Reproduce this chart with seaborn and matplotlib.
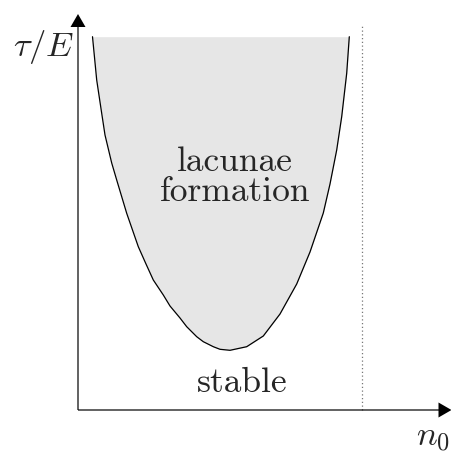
import matplotlib
matplotlib.use("Agg")
import matplotlib.pyplot as plt
import seaborn as sns
import pandas as pd

# Boundary of the lacunae-formation region (n0, tau/E)
n0_boundary = [0.145, 0.187, 0.237, 0.270, 0.337, 0.387, 0.487, 0.603, 0.680, 0.753,
               0.853, 0.920, 1.020, 1.087, 1.187, 1.253, 1.353, 1.420, 1.520, 1.687,
               1.853, 2.020, 2.187, 2.320, 2.453, 2.520, 2.587, 2.637, 2.687, 2.713]
tau_boundary = [3.733, 3.300, 2.967, 2.750, 2.470, 2.300, 1.967, 1.633, 1.460, 1.300,
                1.150, 1.040, 0.920, 0.833, 0.733, 0.683, 0.633, 0.607, 0.597, 0.633,
                0.740, 0.960, 1.260, 1.580, 1.970, 2.260, 2.600, 2.933, 3.367, 3.733]
tau_top = 3.733
n0_limit = 2.837
labels = {"region": "lacunae\nformation", "stable": "stable",
          "xlabel": r"$n_0$", "ylabel": r"$\tau/E$"}

sns.set_theme(style="white")
plt.rcParams["font.family"] = ["cmr10", "DejaVu Serif"]
plt.rcParams["mathtext.fontset"] = "cm"
plt.rcParams["axes.unicode_minus"] = False

fig = plt.figure(figsize=(4.52, 4.54), dpi=100)
ax = fig.add_axes([0, 0, 1, 1])
ax.set_xlim(-0.78, 3.74)
ax.set_ylim(-0.44, 4.10)
ax.axis("off")

df = pd.DataFrame({"n0": n0_boundary, "tau": tau_boundary})
ax.fill_between(df["n0"], df["tau"], tau_top, color="#e6e6e6", lw=0, zorder=1)
sns.lineplot(data=df, x="n0", y="tau", sort=False, color="black", lw=0.9, ax=ax, zorder=3)

# dotted limit line
ax.plot([n0_limit, n0_limit], [0, 3.85], color="#777777", lw=0.9, ls=(0, (1, 2)), zorder=2)

# axes with arrows
ax.arrow(0, 0, 3.735, 0, width=0.012, head_width=0.15, head_length=0.13,
         length_includes_head=True, fc="black", ec="black", lw=0, zorder=4)
ax.arrow(0, 0, 0, 3.96, width=0.012, head_width=0.15, head_length=0.13,
         length_includes_head=True, fc="black", ec="black", lw=0, zorder=4)

ax.text(1.57, 2.33, labels["region"], ha="center", va="center", fontsize=25.5,
        linespacing=0.95, zorder=5)
ax.text(1.64, 0.27, labels["stable"], ha="center", va="center", fontsize=25.5, zorder=5)
ax.text(-0.34, 3.63, labels["ylabel"], ha="center", va="center", fontsize=25)
ax.text(3.55, -0.28, labels["xlabel"], ha="center", va="center", fontsize=25)

fig.savefig("out.png", dpi=100)
